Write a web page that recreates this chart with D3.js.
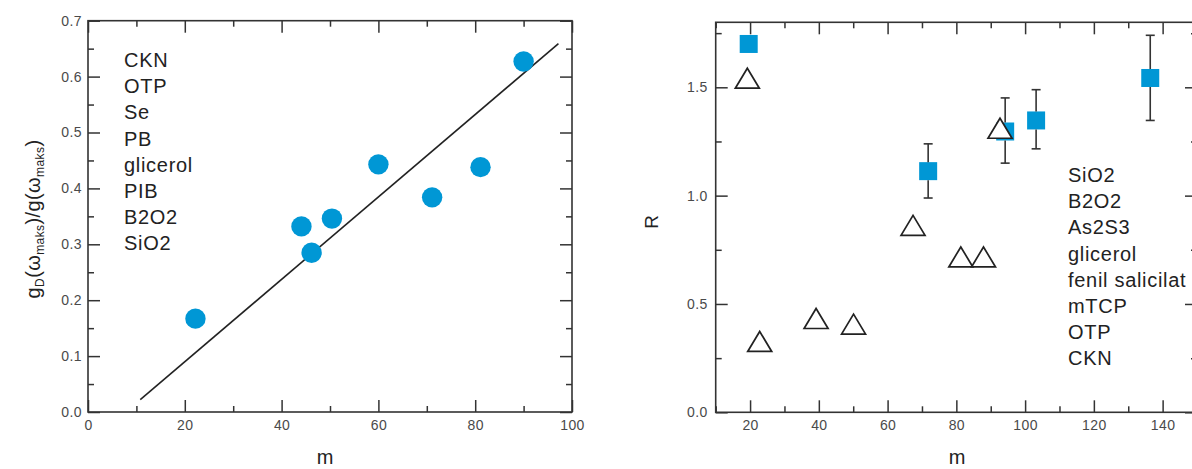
<!DOCTYPE html>
<html>
<head>
<meta charset="utf-8">
<script src="https://cdn.jsdelivr.net/npm/d3@7"></script>
<style>
  html, body { margin: 0; padding: 0; background: #fff; }
  svg { display: block; font-family: "Liberation Sans", Arial, Helvetica, sans-serif; }
</style>
</head>
<body>
<svg id="chart" width="1192" height="469"></svg>
<script>
// ---------- Data: left panel ----------
const leftM = [22.2, 44.1, 46.2, 50.4, 60.0, 71.1, 81.1, 90.0];
const leftG = [0.167, 0.332, 0.285, 0.346, 0.443, 0.384, 0.438, 0.627];
const fitM = [10.8, 97.2];
const fitG = [0.022, 0.659];
const leftLegend = ["CKN", "OTP", "Se", "PB", "glicerol", "PIB", "B2O2", "SiO2"];
const leftXMajor = [0, 20, 40, 60, 80, 100];
const leftXMinor = [10, 30, 50, 70, 90];
const leftYMajor = [0, 0.1, 0.2, 0.3, 0.4, 0.5, 0.6, 0.7];
const leftYMinor = [0.05, 0.15, 0.25, 0.35, 0.45, 0.55, 0.65];

// ---------- Data: right panel ----------
const squareM = [19.6, 71.8, 94.2, 103.2, 136.4];
const squareR = [1.70, 1.113, 1.296, 1.347, 1.543];
const squareHi = [null, 1.239, 1.451, 1.489, 1.740];
const squareLo = [null, 0.989, 1.150, 1.216, 1.347];
const triM = [19.2, 22.8, 39.2, 50.1, 67.4, 81.3, 87.9, 92.7];
const triR = [1.542, 0.327, 0.433, 0.407, 0.863, 0.717, 0.717, 1.311];
const rightLegend = ["SiO2", "B2O2", "As2S3", "glicerol", "fenil salicilat", "mTCP", "OTP", "CKN"];
const rightXMajor = [20, 40, 60, 80, 100, 120, 140];
const rightXMinor = [10, 30, 50, 70, 90, 110, 130, 150];
const rightYMajor = [0, 0.5, 1.0, 1.5];
const rightYMinor = [0.25, 0.75, 1.25, 1.75];

// ---------- Styling ----------
const BLUE = "#0097d5";
const AXIS = "#333";
const LABEL = "#4a4a4a";
const MAJ = 12, MIN = 6;

const svg = d3.select("#chart");

function frame(x, y, xMaj, xMin, yMaj, yMin, padX, padY) {
  const [x0, x1] = x.range();
  const [y0, y1] = y.range(); // y0 bottom, y1 top
  const g = svg.append("g");
  const fmt = d3.format(".1f");

  const add = (axis, tr, labels) => {
    const a = g.append("g").attr("transform", tr).call(axis);
    a.select(".domain").remove();
    a.selectAll(".tick line").attr("stroke", AXIS).attr("stroke-width", 1.5);
    if (!labels) a.selectAll(".tick text").remove();
    else a.selectAll(".tick text").attr("fill", LABEL).style("font-size", "14px")
          .style("letter-spacing", "0.4px")
          .style("font-family", "Liberation Sans, Arial, sans-serif");
    return a;
  };
  // bottom
  add(d3.axisBottom(x).tickValues(xMaj).tickSizeInner(-MAJ).tickSizeOuter(0).tickPadding(padX).tickFormat(d3.format("d")),
      `translate(0,${y0})`, true);
  add(d3.axisBottom(x).tickValues(xMin).tickSizeInner(-MIN).tickSizeOuter(0), `translate(0,${y0})`, false);
  // top
  add(d3.axisTop(x).tickValues(xMaj).tickSizeInner(-MAJ).tickSizeOuter(0), `translate(0,${y1})`, false);
  add(d3.axisTop(x).tickValues(xMin).tickSizeInner(-MIN).tickSizeOuter(0), `translate(0,${y1})`, false);
  // left
  add(d3.axisLeft(y).tickValues(yMaj).tickSizeInner(-MAJ).tickSizeOuter(0).tickPadding(padY).tickFormat(fmt),
      `translate(${x0},0)`, true);
  add(d3.axisLeft(y).tickValues(yMin).tickSizeInner(-MIN).tickSizeOuter(0), `translate(${x0},0)`, false);
  // right
  add(d3.axisRight(y).tickValues(yMaj).tickSizeInner(-MAJ).tickSizeOuter(0), `translate(${x1},0)`, false);
  add(d3.axisRight(y).tickValues(yMin).tickSizeInner(-MIN).tickSizeOuter(0), `translate(${x1},0)`, false);

  g.append("rect").attr("x", x0).attr("y", y1).attr("width", x1 - x0).attr("height", y0 - y1)
    .attr("fill", "none").attr("stroke", AXIS).attr("stroke-width", 1.6);
}

// ---------- Left panel ----------
const xL = d3.scaleLinear().domain([0, 100]).range([88, 572]);
const yL = d3.scaleLinear().domain([0, 0.7]).range([412, 20.7]);
frame(xL, yL, leftXMajor, leftXMinor, leftYMajor, leftYMinor, 8, 6);

svg.append("path")
  .datum(fitM.map((m, i) => [m, fitG[i]]))
  .attr("d", d3.line().x(d => xL(d[0])).y(d => yL(d[1])))
  .attr("fill", "none").attr("stroke", "#222").attr("stroke-width", 1.6);

svg.append("g").selectAll("circle")
  .data(leftM.map((m, i) => [m, leftG[i]]))
  .join("circle")
  .attr("cx", d => xL(d[0])).attr("cy", d => yL(d[1])).attr("r", 10.2)
  .attr("fill", BLUE);

svg.append("g").selectAll("text")
  .data(leftLegend)
  .join("text")
  .attr("x", 124).attr("y", (d, i) => 67 + i * 26.2)
  .attr("fill", "#222").style("font-size", "20px").style("letter-spacing", "0.7px")
  .text(d => d);

svg.append("text").attr("x", 325).attr("y", 464).attr("text-anchor", "middle")
  .attr("fill", "#222").style("font-size", "20px").text("m");

const yt = svg.append("text")
  .attr("transform", "translate(40,219) rotate(-90)")
  .attr("text-anchor", "middle").attr("fill", "#222").style("font-size", "20px")
  .style("letter-spacing", "0.4px");
yt.append("tspan").text("g");
yt.append("tspan").attr("dy", 4).style("font-size", "12px").text("D");
yt.append("tspan").attr("dy", -4).text("(ω");
yt.append("tspan").attr("dy", 4).style("font-size", "12px").text("maks");
yt.append("tspan").attr("dy", -4).text(")/g(ω");
yt.append("tspan").attr("dy", 4).style("font-size", "12px").text("maks");
yt.append("tspan").attr("dy", -4).text(")");

// ---------- Right panel ----------
const xR = d3.scaleLinear().domain([10, 150]).range([715.7, 1197]);
const yR = d3.scaleLinear().domain([0, 1.8]).range([412.3, 22.3]);
frame(xR, yR, rightXMajor, rightXMinor, rightYMajor, rightYMinor, 8, 8);

const SQ = 18;
const sqData = squareM.map((m, i) => ({ m, r: squareR[i], hi: squareHi[i], lo: squareLo[i] }));

svg.append("g").selectAll("rect")
  .data(sqData)
  .join("rect")
  .attr("x", d => xR(d.m) - SQ / 2).attr("y", d => yR(d.r) - SQ / 2)
  .attr("width", SQ).attr("height", SQ).attr("fill", BLUE);

const triSym = d3.symbol().type({
  draw(ctx) {
    const w = 24, h = 20;
    ctx.moveTo(0, -h / 2);
    ctx.lineTo(w / 2, h / 2);
    ctx.lineTo(-w / 2, h / 2);
    ctx.closePath();
  }
});
svg.append("g").selectAll("path")
  .data(triM.map((m, i) => [m, triR[i]]))
  .join("path")
  .attr("transform", d => `translate(${xR(d[0])},${yR(d[1])})`)
  .attr("d", triSym)
  .attr("fill", "#fff").attr("stroke", "#222").attr("stroke-width", 1.7)
  .attr("stroke-linejoin", "miter");

const eb = svg.append("g").attr("stroke", "#333").attr("stroke-width", 1.6);
sqData.filter(d => d.hi != null).forEach(d => {
  const cx = xR(d.m), cy = yR(d.r);
  eb.append("line").attr("x1", cx).attr("x2", cx).attr("y1", yR(d.hi)).attr("y2", cy - SQ / 2);
  eb.append("line").attr("x1", cx).attr("x2", cx).attr("y1", cy + SQ / 2).attr("y2", yR(d.lo));
  eb.append("line").attr("x1", cx - 4.5).attr("x2", cx + 4.5).attr("y1", yR(d.hi)).attr("y2", yR(d.hi));
  eb.append("line").attr("x1", cx - 4.5).attr("x2", cx + 4.5).attr("y1", yR(d.lo)).attr("y2", yR(d.lo));
});

svg.append("g").selectAll("text")
  .data(rightLegend)
  .join("text")
  .attr("x", 1068).attr("y", (d, i) => 182 + i * 26.2)
  .attr("fill", "#222").style("font-size", "20px").style("letter-spacing", "0.7px")
  .text(d => d);

svg.append("text").attr("x", 957).attr("y", 464).attr("text-anchor", "middle")
  .attr("fill", "#222").style("font-size", "20px").text("m");

svg.append("text").attr("transform", "translate(658,222) rotate(-90)")
  .attr("text-anchor", "middle").attr("fill", "#222").style("font-size", "19px").text("R");
</script>
</body>
</html>
